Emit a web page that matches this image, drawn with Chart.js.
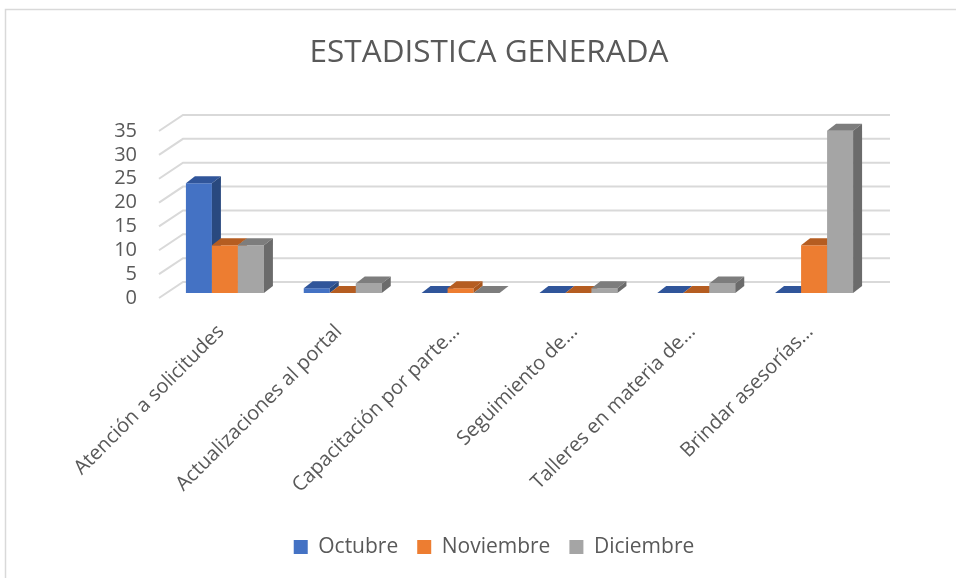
<!DOCTYPE html>
<html>
<head>
<meta charset="utf-8">
<script src="https://cdn.jsdelivr.net/npm/chart.js@4.4.1/dist/chart.umd.min.js"></script>
<style>
  html, body { margin: 0; padding: 0; background: #ffffff; }
  #wrap { width: 956px; height: 578px; position: relative; }
</style>
</head>
<body>
<div id="wrap"><canvas id="c" width="956" height="578"></canvas></div>
<script>
const categories = [
  "Atención a solicitudes",
  "Actualizaciones al portal",
  "Capacitación por parte…",
  "Seguimiento de…",
  "Talleres en materia de…",
  "Brindar asesorías…"
];
const seriesNames = ["Octubre", "Noviembre", "Diciembre"];
const octubre   = [23, 1, 0, 0, 0, 0];
const noviembre = [10, 0, 1, 0, 0, 10];
const diciembre = [10, 2, 0, 1, 2, 34];
const yTicks = [0, 5, 10, 15, 20, 25, 30, 35];

const frontColors = ["#4472c4", "#ed7d31", "#a5a5a5"];
const topColors   = ["#30559a", "#b55d21", "#7d7d7d"];
const sideColors  = ["#29497f", "#a9561d", "#6b6b6b"];

const TXT = "#595959";
const DX = 9, DY = -7;     // bar depth
const WX = 17, WY = -11;   // bar plane -> back wall
const FX = -7, FY = 5;     // bar plane -> front wall edge

const frame3d = {
  id: 'frame3d',
  afterLayout(chart) {
    if (chart.legend) { chart.legend.left += 5; chart.legend.right += 5; }
  },
  beforeDraw(chart) {
    const ctx = chart.ctx;
    ctx.save();
    ctx.fillStyle = '#ffffff';
    ctx.fillRect(0, 0, chart.width, chart.height);
    ctx.strokeStyle = '#d9d9d9';
    ctx.lineWidth = 1.5;
    ctx.beginPath();
    ctx.moveTo(5.5, chart.height);
    ctx.lineTo(5.5, 9.5);
    ctx.lineTo(chart.width, 9.5);
    ctx.stroke();
    ctx.restore();
  },
  beforeDatasetsDraw(chart) {
    const ctx = chart.ctx;
    const ys = chart.scales.y;
    const a = chart.chartArea;
    ctx.save();
    ctx.strokeStyle = '#d9d9d9';
    ctx.lineWidth = 2;
    yTicks.forEach(v => {
      const y = ys.getPixelForValue(v);
      ctx.beginPath();
      ctx.moveTo(a.left + FX, y + FY);
      ctx.lineTo(a.left + WX, y + WY);
      ctx.lineTo(a.right + WX, y + WY);
      ctx.stroke();
    });
    chart.data.datasets.forEach((ds, i) => {
      const meta = chart.getDatasetMeta(i);
      if (meta.hidden) return;
      meta.data.forEach(el => {
        const w = el.width;
        const l = el.x - w / 2, r = el.x + w / 2;
        const top = Math.min(el.y, el.base), base = Math.max(el.y, el.base);
        ctx.fillStyle = frontColors[i];
        ctx.fillRect(l, top, w, base - top);
        ctx.fillStyle = topColors[i];
        ctx.beginPath();
        ctx.moveTo(l, top);
        ctx.lineTo(l + DX, top + DY);
        ctx.lineTo(r + DX, top + DY);
        ctx.lineTo(r, top);
        ctx.closePath();
        ctx.fill();
        ctx.fillStyle = sideColors[i];
        ctx.beginPath();
        ctx.moveTo(r, top);
        ctx.lineTo(r + DX, top + DY);
        ctx.lineTo(r + DX, base + DY);
        ctx.lineTo(r, base);
        ctx.closePath();
        ctx.fill();
      });
    });
    ctx.restore();
    return false;
  }
};

const data = {
  labels: categories,
  datasets: [
    { label: seriesNames[0], data: octubre,   backgroundColor: frontColors[0] },
    { label: seriesNames[1], data: noviembre, backgroundColor: frontColors[1] },
    { label: seriesNames[2], data: diciembre, backgroundColor: frontColors[2] }
  ]
};

new Chart(document.getElementById('c'), {
  type: 'bar',
  data,
  plugins: [frame3d],
  options: {
    responsive: false,
    animation: false,
    layout: { padding: { left: 105, right: 83, top: 10, bottom: 10.5 } },
    datasets: { bar: { barPercentage: 1.0, categoryPercentage: 0.662 } },
    scales: {
      x: {
        offset: true,
        grid: { display: false, drawTicks: false },
        border: { display: false },
        ticks: {
          color: TXT,
          font: { family: 'Open Sans', size: 20 },
          minRotation: 45, maxRotation: 45,
          autoSkip: false,
          padding: 27,
          labelOffset: -4
        },
        afterFit(scale) { scale.height = 224.5; }
      },
      y: {
        min: 0, max: 35,
        grid: { display: false, drawTicks: false },
        border: { display: false },
        ticks: {
          stepSize: 5,
          autoSkip: false,
          color: TXT,
          font: { family: 'Open Sans', size: 20 },
          padding: 29,
          labelOffset: 5
        },
        afterFit(scale) { scale.width = 61; }
      }
    },
    plugins: {
      title: {
        display: true,
        text: 'ESTADISTICA GENERADA',
        color: TXT,
        font: { family: 'Open Sans', size: 31.5, weight: 'normal', lineHeight: 1.2 },
        padding: { top: 24, bottom: 54.2 }
      },
      legend: {
        position: 'bottom',
        labels: {
          color: TXT,
          font: { family: 'Open Sans', size: 21 },
          boxWidth: 14, boxHeight: 14,
          padding: 19
        }
      },
      tooltip: { enabled: false }
    }
  }
});
</script>
</body>
</html>
